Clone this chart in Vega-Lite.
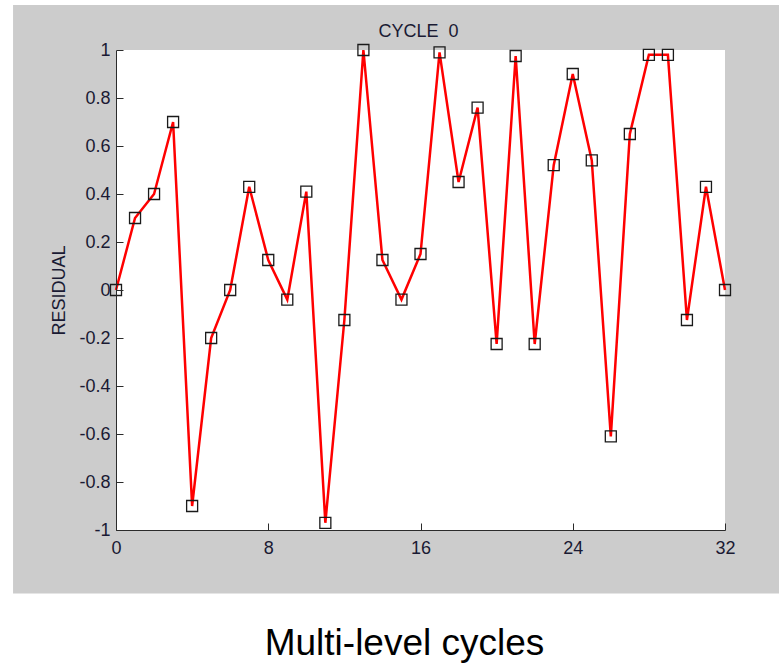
{
  "$schema": "https://vega.github.io/schema/vega-lite/v6.json",
  "width": 609,
  "height": 480,
  "autosize": {"type": "none"},
  "padding": {"left": 116, "top": 50, "right": 54, "bottom": 134},
  "background": "white",
  "config": {
    "view": {"stroke": null},
    "font": "Liberation Sans",
    "axis": {
      "domainColor": "#2b2b2b",
      "tickColor": "#2b2b2b",
      "domainWidth": 1,
      "tickWidth": 1,
      "grid": false,
      "labelFont": "Liberation Sans",
      "labelFontSize": 18,
      "labelColor": "#1a1a33",
      "labelFlush": false,
      "labelOverlap": false,
      "labelBound": false,
      "titleFont": "Liberation Sans",
      "titleFontWeight": "normal",
      "titleColor": "#1a1a33"
    }
  },
  "data": {
    "values": [
      {"t": 0, "r": 0}, {"t": 1, "r": 0.3}, {"t": 2, "r": 0.4}, {"t": 3, "r": 0.7},
      {"t": 4, "r": -0.9}, {"t": 5, "r": -0.2}, {"t": 6, "r": 0}, {"t": 7, "r": 0.43},
      {"t": 8, "r": 0.125}, {"t": 9, "r": -0.04}, {"t": 10, "r": 0.41}, {"t": 11, "r": -0.97},
      {"t": 12, "r": -0.125}, {"t": 13, "r": 1.0}, {"t": 14, "r": 0.125}, {"t": 15, "r": -0.04},
      {"t": 16, "r": 0.15}, {"t": 17, "r": 0.99}, {"t": 18, "r": 0.45}, {"t": 19, "r": 0.76},
      {"t": 20, "r": -0.225}, {"t": 21, "r": 0.975}, {"t": 22, "r": -0.225}, {"t": 23, "r": 0.52},
      {"t": 24, "r": 0.9}, {"t": 25, "r": 0.54}, {"t": 26, "r": -0.61}, {"t": 27, "r": 0.65},
      {"t": 28, "r": 0.98}, {"t": 29, "r": 0.98}, {"t": 30, "r": -0.125}, {"t": 31, "r": 0.43},
      {"t": 32, "r": 0}
    ]
  },
  "resolve": {"axis": {"x": "independent", "y": "independent"}},
  "layer": [
    {
      "description": "grey figure frame behind the axes",
      "data": {"values": [{}]},
      "mark": {"type": "rect", "color": "#cccccc", "clip": false},
      "encoding": {
        "x": {"datum": -5.41, "type": "quantitative", "scale": {"domain": [0, 32], "nice": false, "zero": false}, "axis": null},
        "x2": {"datum": 35},
        "y": {"datum": 1.1875, "type": "quantitative", "scale": {"domain": [-1, 1], "nice": false, "zero": false}, "axis": null},
        "y2": {"datum": -1.265}
      }
    },
    {
      "description": "white axes box",
      "data": {"values": [{}]},
      "mark": {"type": "rect", "color": "white"},
      "encoding": {
        "x": {"datum": 0, "type": "quantitative", "scale": {"domain": [0, 32], "nice": false, "zero": false}, "axis": null},
        "x2": {"datum": 32},
        "y": {"datum": 1, "type": "quantitative", "scale": {"domain": [-1, 1], "nice": false, "zero": false}, "axis": null},
        "y2": {"datum": -1}
      }
    },
    {
      "mark": {"type": "line", "color": "#ff0000", "strokeWidth": 2.5, "clip": false},
      "encoding": {
        "x": {
          "field": "t",
          "type": "quantitative",
          "scale": {"domain": [0, 32], "nice": false, "zero": false},
          "axis": {
            "orient": "bottom",
            "zindex": 1,
            "values": [0, 8, 16, 24, 32],
            "tickSize": -7,
            "labelPadding": 16,
            "title": "Multi-level cycles",
            "titleFontSize": 37,
            "titleColor": "black",
            "titleX": 288,
            "titleY": 124,
            "titleAlign": "center",
            "titleBaseline": "alphabetic"
          }
        },
        "y": {
          "field": "r",
          "type": "quantitative",
          "scale": {"domain": [-1, 1], "nice": false, "zero": false},
          "axis": {
            "orient": "left",
            "zindex": 1,
            "values": [-1, -0.8, -0.6, -0.4, -0.2, 0, 0.2, 0.4, 0.6, 0.8, 1],
            "labelExpr": "datum.value + ''",
            "tickSize": -7,
            "labelPadding": 13,
            "title": "RESIDUAL",
            "titleFontSize": 18,
            "titleAngle": -90,
            "titleX": -52,
            "titleY": 240,
            "titleAlign": "center",
            "titleBaseline": "alphabetic"
          }
        }
      }
    },
    {
      "mark": {"type": "point", "shape": "square", "filled": false, "size": 121, "stroke": "#1a1a1a", "strokeWidth": 1.3, "opacity": 1, "clip": false},
      "encoding": {
        "x": {
          "field": "t",
          "type": "quantitative",
          "scale": {"domain": [0, 32], "nice": false, "zero": false},
          "axis": {
            "orient": "top",
            "zindex": 1,
            "domain": false,
            "ticks": false,
            "labels": false,
            "title": "CYCLE \u00a00",
            "titleFontSize": 18,
            "titleX": 302,
            "titleY": -14,
            "titleAlign": "center",
            "titleBaseline": "alphabetic"
          }
        },
        "y": {
          "field": "r",
          "type": "quantitative",
          "scale": {"domain": [-1, 1], "nice": false, "zero": false},
          "axis": null
        }
      }
    }
  ]
}
